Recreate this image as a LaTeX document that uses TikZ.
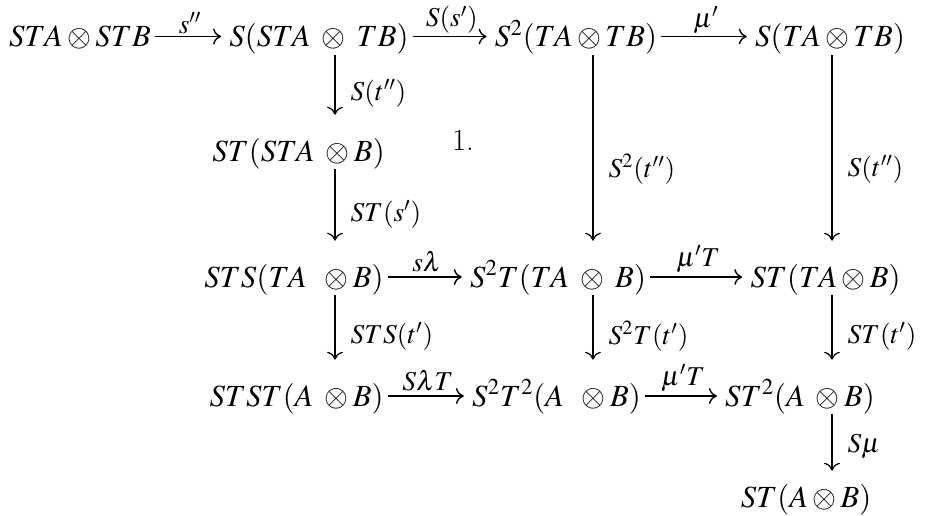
\documentclass[tikz,border=0pt]{standalone}
\usepackage{mathptmx}
\usetikzlibrary{arrows.meta,positioning}

\begin{document}
\begin{tikzpicture}[
  every node/.style={font=\fontsize{17.5}{21}\selectfont},
  obj/.style={anchor=base, inner sep=0pt, text height=0.52cm, text depth=0.12cm},
  lab/.style={inner sep=0pt, font=\fontsize{15.5}{18}\selectfont},
  ar/.style={-{To[length=4.5pt,width=9pt]}, line width=0.8pt, shorten <=0.08cm, shorten >=0.16cm},
  dn/.style={-{To[length=4.5pt,width=9pt]}, line width=0.7pt, shorten <=0.04cm, shorten >=0.4cm}]

\useasboundingbox (0,0) rectangle (18.54,-10.3);

%% --- columns of the vertical maps ---
\coordinate (colA) at (6.70,0);
\coordinate (colB) at (11.86,0);
\coordinate (colC) at (16.64,0);

%% --- row 1 ---
\node[obj] (STASTB)  at ( 1.60,-0.93) {$STA \otimes STB$};
\node[obj] (SSTATB)  at ( 6.38,-0.93) {$S(STA\;\otimes\;TB)$};
\node[obj] (SSTATB2) at (11.52,-0.93) {$S^2(TA \otimes TB)$};
\node[obj] (STATB)   at (16.60,-0.93) {$S(TA \otimes TB)$};

%% --- row 2 ---
\node[obj] (STSTAB)  at ( 5.97,-3.22) {$ST(STA\;\otimes B)$};
\node[anchor=base, inner sep=0pt] (one) at (9.26,-3.0) {1.};

%% --- row 3 ---
\node[obj] (STSTAB3) at ( 5.88,-5.74) {$STS(TA\;\;\otimes B)$};
\node[obj] (SSTTAB)  at (11.16,-5.74) {$S^2T(TA\;\otimes\;B)$};
\node[obj] (STTAB)   at (16.51,-5.74) {$ST(TA \otimes B)$};

%% --- row 4 ---
\node[obj] (STSTA4)  at ( 5.93,-8.12) {$STST(A\;\otimes B)$};
\node[obj] (SSTTA)   at (11.13,-8.12) {$S^2T^2(A\;\;\otimes B)$};
\node[obj] (STTA)    at (16.00,-8.12) {$ST^2(A\;\otimes B)$};

%% --- row 5 ---
\node[obj] (STAB)    at (16.12,-10.14) {$ST(A \otimes B)$};

%% --- horizontal maps ---
\draw[ar] (STASTB)  -- node[lab,above=0.04cm]{$s''$}       (SSTATB);
\draw[ar] (SSTATB)  -- node[lab,above=0.04cm]{$S(s')$}     (SSTATB2);
\draw[ar] (SSTATB2) -- node[lab,above=0.04cm]{$\mu'$}      (STATB);
\draw[ar] (STSTAB3) -- node[lab,above=0.08cm]{$s\lambda$}  (SSTTAB);
\draw[ar] (SSTTAB)  -- node[lab,above=0.08cm]{$\mu'T$}     (STTAB);
\draw[ar] (STSTA4)  -- node[lab,above=0.08cm]{$S\lambda T$} (SSTTA);
\draw[ar] (SSTTA)   -- node[lab,above=0.08cm]{$\mu'T$}     (STTA);

%% --- vertical maps ---
\draw[dn] (SSTATB.south -| colA)  -- node[lab,right=0.3cm]{$S(t'')$}   (STSTAB.north -| colA);
\draw[dn] (STSTAB.south -| colA)  -- node[lab,right=0.3cm]{$ST(s')$}   (STSTAB3.north -| colA);
\draw[dn] (STSTAB3.south -| colA) -- node[lab,right=0.3cm]{$STS(t')$}  (STSTA4.north -| colA);
\draw[dn] (SSTATB2.south -| colB) -- node[lab,right=0.3cm,pos=0.56]{$S^2(t'')$} (SSTTAB.north -| colB);
\draw[dn] (SSTTAB.south -| colB)  -- node[lab,right=0.3cm]{$S^2T(t')$} (SSTTA.north -| colB);
\draw[dn] (STATB.south -| colC)   -- node[lab,right=0.3cm,pos=0.56]{$S(t'')$}   (STTAB.north -| colC);
\draw[dn] (STTAB.south -| colC)   -- node[lab,right=0.3cm]{$ST(t')$}   (STTA.north -| colC);
\draw[dn,shorten >=0.2cm] (STTA.south -| colC) -- node[lab,right=0.3cm]{$S\mu$} (STAB.north -| colC);
\end{tikzpicture}
\end{document}
